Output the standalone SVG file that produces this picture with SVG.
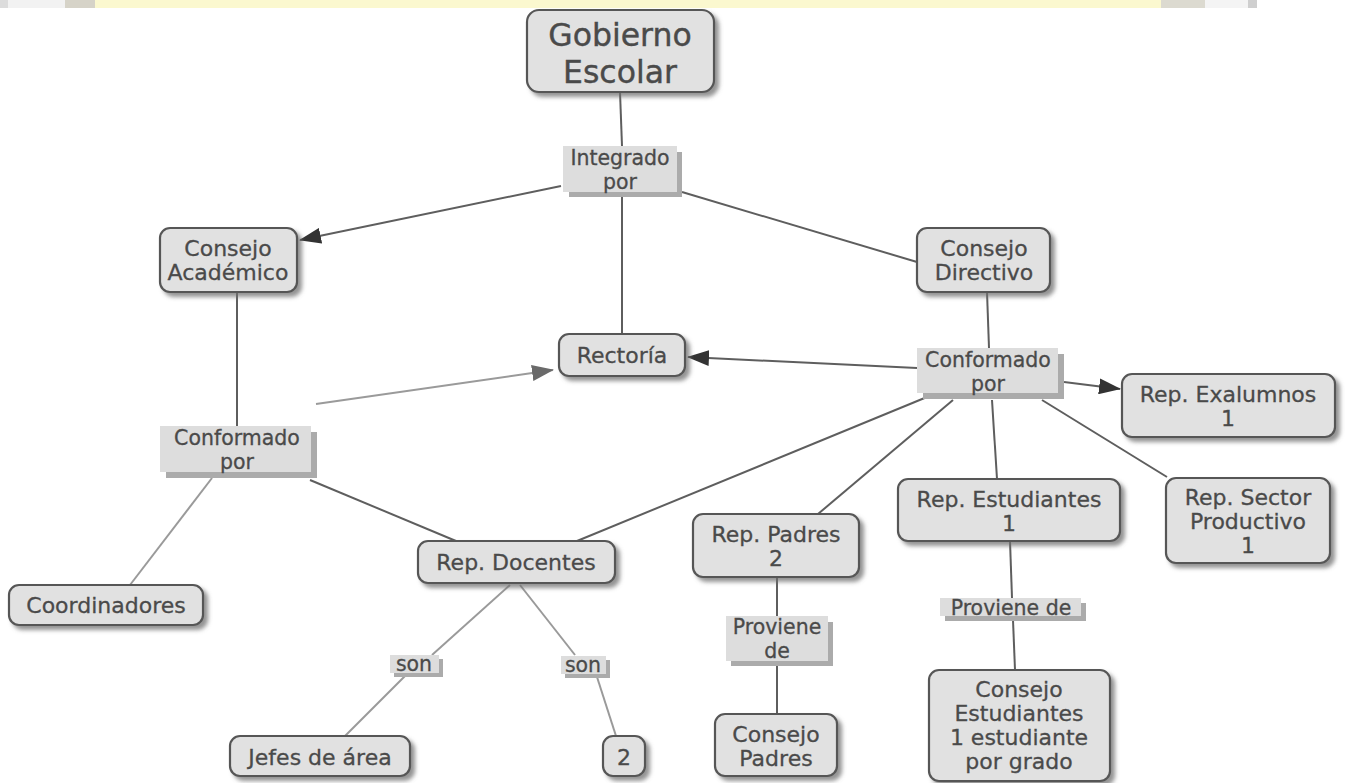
<svg xmlns="http://www.w3.org/2000/svg" width="1352" height="783" viewBox="0 0 1352 783">
<style>
  .node rect.b { fill: #e1e1e1; stroke: #575757; stroke-width: 2.2; filter: url(#sh); }
  .lp rect.s { fill: #ababab; }
  .lp rect.b { fill: #dddddd; }
  text { font-family: "DejaVu Sans", Verdana, sans-serif; font-size: 22px; fill: #4a4a4a; stroke: #4a4a4a; stroke-width: 0.3; text-anchor: middle; }
  .lp text { font-size: 20.5px; }
  .big { font-size: 31.5px; stroke-width: 0.4; }
  .c line { stroke: #5e5e5e; stroke-width: 2; fill: none; }
  .c line.l { stroke: #9a9a9a; }
</style>
<defs>
  <filter id="sh" x="-20%" y="-20%" width="150%" height="150%">
    <feDropShadow dx="4" dy="4" stdDeviation="2" flood-color="#707070" flood-opacity="0.75"/>
  </filter>
  <marker id="ar" markerUnits="userSpaceOnUse" markerWidth="22" markerHeight="16" refX="21" refY="8" orient="auto">
    <path d="M0,0 L22,8 L0,16 z" fill="#333"/>
  </marker>
  <marker id="arg" markerUnits="userSpaceOnUse" markerWidth="22" markerHeight="16" refX="21" refY="8" orient="auto">
    <path d="M0,0 L22,8 L0,16 z" fill="#6a6a6a"/>
  </marker>
</defs>
<rect width="1352" height="783" fill="#ffffff"/>
<g id="band">
  <rect x="0" y="0" width="8" height="8" fill="#dcdcdc"/>
  <rect x="8" y="0" width="57" height="8" fill="#f2f2f2"/>
  <rect x="65" y="0" width="30" height="8" fill="#d6d3c8"/>
  <rect x="95" y="0" width="1066" height="8" fill="#fbf8cf"/>
  <rect x="1161" y="0" width="44" height="8" fill="#dcdad0"/>
  <rect x="1205" y="0" width="43" height="8" fill="#f4f4f4"/>
  <rect x="1248" y="0" width="9" height="8" fill="#cfcfcf"/>
</g>
<g class="c" id="connectors">
  <line x1="620" y1="92" x2="622" y2="146"/>
  <line x1="561" y1="186" x2="300" y2="240" marker-end="url(#ar)"/>
  <line x1="622" y1="197" x2="622" y2="334"/>
  <line x1="682" y1="192" x2="917" y2="262"/>
  <line x1="237" y1="292" x2="237" y2="426"/>
  <line class="l" x1="316" y1="404" x2="553" y2="370" marker-end="url(#arg)"/>
  <line class="l" x1="212" y1="478" x2="130" y2="585"/>
  <line x1="310" y1="480" x2="456" y2="541"/>
  <line x1="987" y1="292" x2="989" y2="348"/>
  <line x1="917" y1="368" x2="688" y2="357" marker-end="url(#ar)"/>
  <line x1="1064" y1="382" x2="1120" y2="389" marker-end="url(#ar)"/>
  <line x1="927" y1="397" x2="577" y2="541"/>
  <line x1="953" y1="400" x2="818" y2="514"/>
  <line x1="992" y1="400" x2="997" y2="479"/>
  <line x1="1042" y1="400" x2="1167" y2="477"/>
  <line class="l" x1="510" y1="585" x2="432" y2="655"/>
  <line class="l" x1="405" y1="676" x2="345" y2="736"/>
  <line class="l" x1="520" y1="585" x2="575" y2="655"/>
  <line class="l" x1="597" y1="677" x2="616" y2="736"/>
  <line x1="777" y1="577" x2="777" y2="616"/>
  <line x1="777" y1="666" x2="777" y2="714"/>
  <line x1="1010" y1="541" x2="1012" y2="598"/>
  <line x1="1013" y1="620" x2="1015" y2="670"/>
</g>
<g id="gobierno" class="node"><rect class="b" x="527" y="10" width="187" height="82" rx="12"/><text class="big" x="620" y="46">Gobierno</text><text class="big" x="620" y="83">Escolar</text></g>
<g id="integrado" class="lp"><rect class="s" x="569" y="152" width="113" height="45"/><rect class="b" x="563" y="146" width="114" height="46"/><text x="620" y="165">Integrado</text><text x="620" y="189">por</text></g>
<g id="academico" class="node"><rect class="b" x="160" y="228" width="137" height="64" rx="10"/><text x="228" y="256">Consejo</text><text x="228" y="280">Académico</text></g>
<g id="directivo" class="node"><rect class="b" x="917" y="228" width="133" height="64" rx="10"/><text x="984" y="256">Consejo</text><text x="984" y="280">Directivo</text></g>
<g id="rectoria" class="node"><rect class="b" x="559" y="334" width="126" height="42" rx="10"/><text x="622" y="363">Rectoría</text></g>
<g id="conf-izq" class="lp"><rect class="s" x="166" y="432" width="151" height="46"/><rect class="b" x="160" y="426" width="151" height="46"/><text x="237" y="445">Conformado</text><text x="237" y="469">por</text></g>
<g id="conf-der" class="lp"><rect class="s" x="923" y="354" width="141" height="45"/><rect class="b" x="917" y="348" width="141" height="45"/><text x="988" y="367">Conformado</text><text x="988" y="391">por</text></g>
<g id="exalumnos" class="node"><rect class="b" x="1122" y="374" width="213" height="63" rx="10"/><text x="1228" y="402">Rep. Exalumnos</text><text x="1228" y="426">1</text></g>
<g id="sector" class="node"><rect class="b" x="1166" y="478" width="164" height="85" rx="10"/><text x="1248" y="505">Rep. Sector</text><text x="1248" y="529">Productivo</text><text x="1248" y="553">1</text></g>
<g id="estudiantes" class="node"><rect class="b" x="898" y="479" width="222" height="62" rx="10"/><text x="1009" y="507">Rep. Estudiantes</text><text x="1009" y="531">1</text></g>
<g id="padres" class="node"><rect class="b" x="693" y="514" width="166" height="63" rx="10"/><text x="776" y="542">Rep. Padres</text><text x="776" y="566">2</text></g>
<g id="docentes" class="node"><rect class="b" x="418" y="541" width="197" height="42" rx="10"/><text x="516" y="570">Rep. Docentes</text></g>
<g id="coordinadores" class="node"><rect class="b" x="9" y="585" width="194" height="40" rx="10"/><text x="106" y="613">Coordinadores</text></g>
<g id="son1" class="lp"><rect class="s" x="394" y="659" width="49" height="18"/><rect class="b" x="390" y="655" width="49" height="18"/><text x="414" y="671">son</text></g>
<g id="son2" class="lp"><rect class="s" x="565" y="660" width="45" height="18"/><rect class="b" x="561" y="656" width="45" height="18"/><text x="583" y="672">son</text></g>
<g id="jefes" class="node"><rect class="b" x="230" y="736" width="180" height="40" rx="10"/><text x="320" y="765">Jefes de área</text></g>
<g id="dos" class="node"><rect class="b" x="603" y="736" width="42" height="40" rx="10"/><text x="624" y="765">2</text></g>
<g id="proviene1" class="lp"><rect class="s" x="731" y="622" width="102" height="44"/><rect class="b" x="726" y="616" width="102" height="45"/><text x="777" y="634">Proviene</text><text x="777" y="658">de</text></g>
<g id="consejo-padres" class="node"><rect class="b" x="715" y="714" width="122" height="62" rx="10"/><text x="776" y="742">Consejo</text><text x="776" y="766">Padres</text></g>
<g id="proviene2" class="lp"><rect class="s" x="945" y="603" width="141" height="18"/><rect class="b" x="940" y="598" width="141" height="18"/><text x="1011" y="615">Proviene de</text></g>
<g id="consejo-estudiantes" class="node"><rect class="b" x="929" y="670" width="181" height="111" rx="10"/><text x="1019" y="697">Consejo</text><text x="1019" y="721">Estudiantes</text><text x="1019" y="745">1 estudiante</text><text x="1019" y="769">por grado</text></g>
</svg>
